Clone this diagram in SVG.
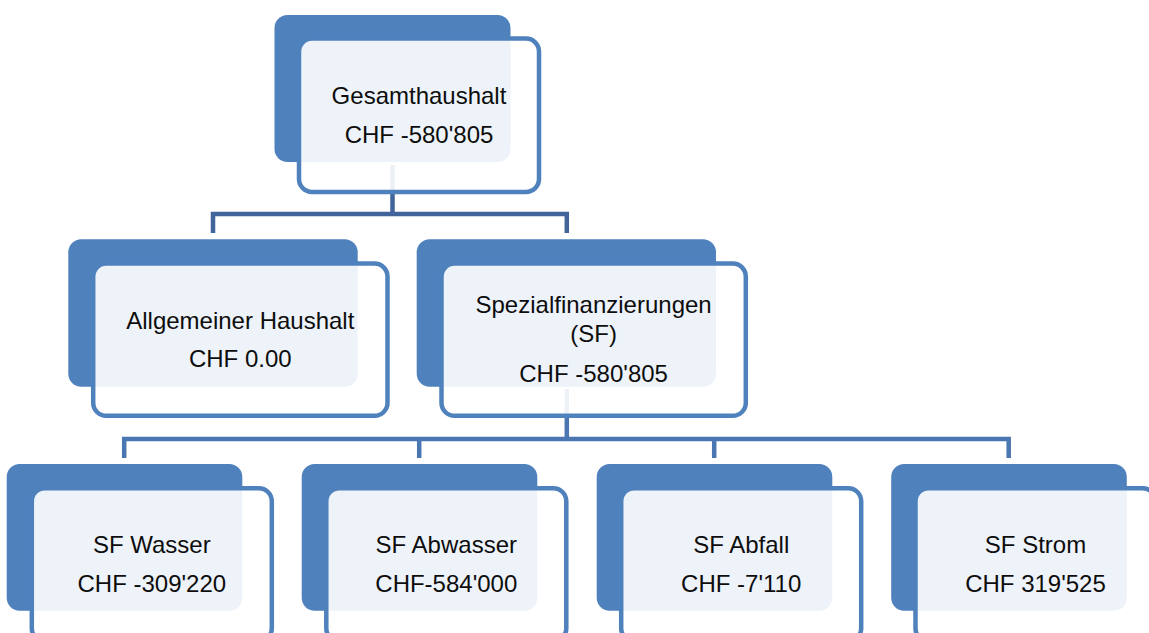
<svg xmlns="http://www.w3.org/2000/svg" width="1149" height="633" viewBox="0 0 1149 633">
<style>
.back{fill:#4f81bd}
.front{fill:#ffffff;fill-opacity:0.9;stroke:#4f81bd;stroke-width:4.5}
.lbl{font-family:"Liberation Sans",Arial,sans-serif;font-size:24px;fill:#0d0d0d;text-anchor:middle}
.c1{fill:none;stroke:#41659b;stroke-width:4.5}
.c2{fill:none;stroke:#4a76b2;stroke-width:4.5}
</style>
<rect width="1149" height="633" fill="#ffffff"/>
<g id="connectors">
<path class="c1" d="M392.5,165 V214 M213,233 V214 H566.8 V233"/>
<path class="c2" d="M566.8,389 V439 M124.2,458 V439 H1008.7 V458 M419.2,439 V458 M714.2,439 V458"/>
</g>
<g id="gesamthaushalt">
<rect class="back" x="274.5" y="15" width="236" height="147" rx="13"/>
<rect class="front" x="299" y="38.5" width="240" height="153.5" rx="13"/>
<text class="lbl" x="419" y="104.3">Gesamthaushalt</text>
<text class="lbl" x="419" y="142.7">CHF -580'805</text>
</g>
<g id="allgemeiner-haushalt">
<rect class="back" x="68.3" y="239.3" width="289.4" height="147.4" rx="13"/>
<rect class="front" x="93.2" y="263.5" width="294.3" height="152.3" rx="13"/>
<text class="lbl" x="240.3" y="329.3">Allgemeiner Haushalt</text>
<text class="lbl" x="240.3" y="366.7">CHF 0.00</text>
</g>
<g id="spezialfinanzierungen">
<rect class="back" x="416.7" y="239.3" width="299.3" height="147.4" rx="13"/>
<rect class="front" x="441.5" y="263.5" width="304.3" height="152.3" rx="13"/>
<text class="lbl" x="593.6" y="313.3">Spezialfinanzierungen</text>
<text class="lbl" x="593.6" y="342">(SF)</text>
<text class="lbl" x="593.6" y="381.7">CHF -580'805</text>
</g>
<g id="sf-wasser">
<rect class="back" x="6.7" y="464" width="235.6" height="146.7" rx="13"/>
<rect class="front" x="31.8" y="488.2" width="240" height="153" rx="13"/>
<text class="lbl" x="151.8" y="552.9">SF Wasser</text>
<text class="lbl" x="151.8" y="591.7">CHF -309'220</text>
</g>
<g id="sf-abwasser">
<rect class="back" x="301.7" y="464" width="235.6" height="146.7" rx="13"/>
<rect class="front" x="326.3" y="488.2" width="240" height="153" rx="13"/>
<text class="lbl" x="446.3" y="552.9">SF Abwasser</text>
<text class="lbl" x="446.3" y="591.7">CHF-584'000</text>
</g>
<g id="sf-abfall">
<rect class="back" x="596.7" y="464" width="235.6" height="146.7" rx="13"/>
<rect class="front" x="621.2" y="488.2" width="240" height="153" rx="13"/>
<text class="lbl" x="741.2" y="552.9">SF Abfall</text>
<text class="lbl" x="741.2" y="591.7">CHF -7'110</text>
</g>
<g id="sf-strom">
<rect class="back" x="891.2" y="464" width="235.6" height="146.7" rx="13"/>
<rect class="front" x="915.5" y="488.2" width="240" height="153" rx="13"/>
<text class="lbl" x="1035.5" y="552.9">SF Strom</text>
<text class="lbl" x="1035.5" y="591.7">CHF 319'525</text>
</g>
</svg>
